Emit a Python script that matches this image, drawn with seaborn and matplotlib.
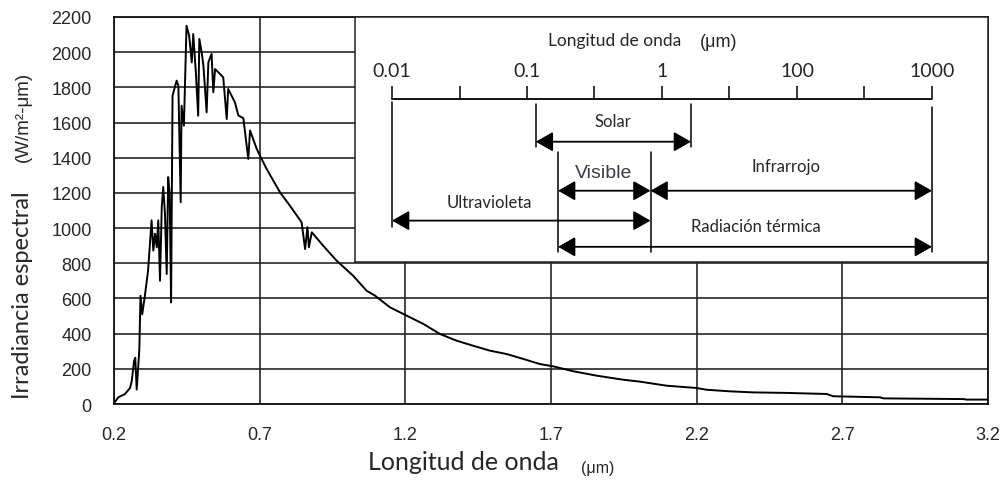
import matplotlib
matplotlib.use("Agg")
import matplotlib.pyplot as plt
import pandas as pd
import seaborn as sns


# Spectrum (wavelength in um, irradiance in W/m2-um)
wavelength_um = [
    0.200, 0.215, 0.238, 0.255, 0.261, 0.269, 0.273, 0.278, 0.283, 0.287,
    0.291, 0.297, 0.306, 0.317, 0.329, 0.335, 0.341, 0.347, 0.352, 0.358,
    0.364, 0.369, 0.375, 0.381, 0.386, 0.391, 0.396, 0.401, 0.415, 0.421,
    0.429, 0.432, 0.440, 0.449, 0.458, 0.467, 0.472, 0.481, 0.489, 0.493,
    0.501, 0.507, 0.518, 0.524, 0.535, 0.541, 0.547, 0.564, 0.575, 0.587,
    0.592, 0.615, 0.627, 0.644, 0.661, 0.667, 0.690, 0.701, 0.724, 0.770,
    0.804, 0.844, 0.856, 0.864, 0.869, 0.879, 0.918, 0.964, 1.021, 1.067,
    1.096, 1.147, 1.205, 1.262, 1.319, 1.376, 1.433, 1.491, 1.548, 1.605,
    1.662, 1.708, 1.777, 1.857, 1.948, 2.006, 2.097, 2.200, 2.234, 2.314,
    2.394, 2.509, 2.646, 2.669, 2.829, 2.841, 3.116, 3.127, 3.200,
]
irradiance = [
    5, 38, 57, 91, 130, 244, 263, 82, 206, 310,
    615, 510, 615, 758, 1044, 872, 968, 891, 1044, 701,
    1120, 1234, 1082, 739, 1290, 1200, 577, 1753, 1838, 1810,
    1147, 1696, 1582, 2150, 2094, 1942, 2103, 1886, 1639, 2075,
    1999, 1923, 1658, 1942, 1990, 1772, 1904, 1876, 1857, 1620,
    1791, 1715, 1640, 1625, 1393, 1555, 1450, 1412, 1336, 1203,
    1127, 1033, 881, 1005, 891, 976, 900, 815, 729, 644,
    616, 550, 502, 455, 398, 360, 331, 303, 284, 256,
    227, 214, 186, 161, 138, 127, 104, 91, 81, 72,
    66, 63, 57, 44, 38, 32, 28, 25, 25,
]

x_ticks = [0.2, 0.7, 1.2, 1.7, 2.2, 2.7, 3.2]
y_ticks = list(range(0, 2201, 200))

# Inset wavelength scale (evenly spaced ticks, labels on every other one)
scale_labels = ["0.01", "", "0.1", "", "1", "", "100", "", "1000"]
band_names = ["Solar", "Visible", "Infrarrojo", "Ultravioleta", "Radiación térmica"]
band_start = [2.13, 2.46, 3.83, 0.0, 2.46]
band_end = [4.43, 3.83, 8.0, 3.83, 8.0]

df = pd.DataFrame({"wavelength": wavelength_um, "irradiance": irradiance})

sns.set_style("white")
plt.rcParams["font.family"] = ["Liberation Sans", "DejaVu Sans"]
label_font = ["Lato", "DejaVu Sans"]

fig = plt.figure(figsize=(10.06, 4.81), dpi=100)
ax = fig.add_axes([0.1133, 0.158, 0.8688, 0.8046])

sns.lineplot(data=df, x="wavelength", y="irradiance", ax=ax, color="black",
             lw=1.4, estimator=None, sort=False, zorder=3)

ax.set_xlim(0.2, 3.2)
ax.set_ylim(0, 2200)
ax.set_xticks(x_ticks)
ax.set_xticklabels([f"{t:.1f}" for t in x_ticks])
ax.set_yticks(y_ticks)
ax.grid(True, color="#262626", lw=1.2)
ax.tick_params(axis="both", direction="out", length=8, width=1.1,
               color="#222222", labelsize=13, pad=8)
for s in ax.spines.values():
    s.set_color("#111111")
    s.set_linewidth(1.3)

ax.set_xlabel("Longitud de onda", family=label_font, fontsize=18)
ax.xaxis.set_label_coords(0.40, -0.12)
ax.text(0.553, -0.163, "(μm)", transform=ax.transAxes, fontsize=11.5,
        ha="center", va="center")
ax.set_ylabel("Irradiancia espectral", family=label_font, fontsize=17)
ax.yaxis.set_label_coords(-0.093, 0.284)
ax.text(-0.094, 0.744, "(W/m²-μm)", transform=ax.transAxes, fontsize=13.5,
        rotation=90, ha="center", va="bottom", rotation_mode="anchor")

# Inset with the wavelength bands
ins = fig.add_axes([0.3529, 0.4532, 0.6292, 0.5094], zorder=5)
ins.set_facecolor("white")
ins.set_xlim(-0.548, 8.83)
ins.set_ylim(0, 1)
ins.set_xticks([])
ins.set_yticks([])
for s in ins.spines.values():
    s.set_color("#222222")
    s.set_linewidth(1.1)

base = 0.665
ins.plot([0, len(scale_labels) - 1], [base, base], color="black", lw=1.3)
ins.vlines(range(len(scale_labels)), base, base + 0.053, color="black", lw=1.1)
for i, lab in enumerate(scale_labels):
    if lab:
        ins.text(i, 0.78, lab, family=label_font, fontsize=14,
                 ha="center", va="center")
ins.text(3.30, 0.906, "Longitud de onda", family=label_font, fontsize=12.5,
         ha="center", va="center")
ins.text(4.84, 0.902, "(μm)", fontsize=13, ha="center", va="center")

# guide lines hanging from the scale
guides = [(0.0, 0.653, 0.143), (2.13, 0.645, 0.469), (4.43, 0.645, 0.469),
          (2.46, 0.449, 0.041), (3.83, 0.449, 0.041), (8.0, 0.633, 0.041)]
for gx, y0, y1 in guides:
    ins.plot([gx, gx], [y0, y1], color="black", lw=1.1)

arrow_y = [0.491, 0.291, 0.291, 0.169, 0.062]
text_pos = [(3.27, 0.576), (3.13, 0.367), (5.84, 0.392), (1.44, 0.245), (5.39, 0.147)]
for name, x0, x1, ay, (tx, ty) in zip(band_names, band_start, band_end,
                                      arrow_y, text_pos):
    ins.annotate("", xy=(x1, ay), xytext=(x0, ay),
                 arrowprops=dict(arrowstyle="<|-|>,head_length=0.7,head_width=0.4",
                                 color="black", lw=1.3, shrinkA=0, shrinkB=0,
                                 mutation_scale=15))
    if name == "Visible":
        ins.text(tx, ty, name, fontsize=14, color="#3b3b4b",
                 ha="center", va="center")
    else:
        ins.text(tx, ty, name, family=label_font, fontsize=12,
                 ha="center", va="center")

fig.savefig("out.png", dpi=100)
